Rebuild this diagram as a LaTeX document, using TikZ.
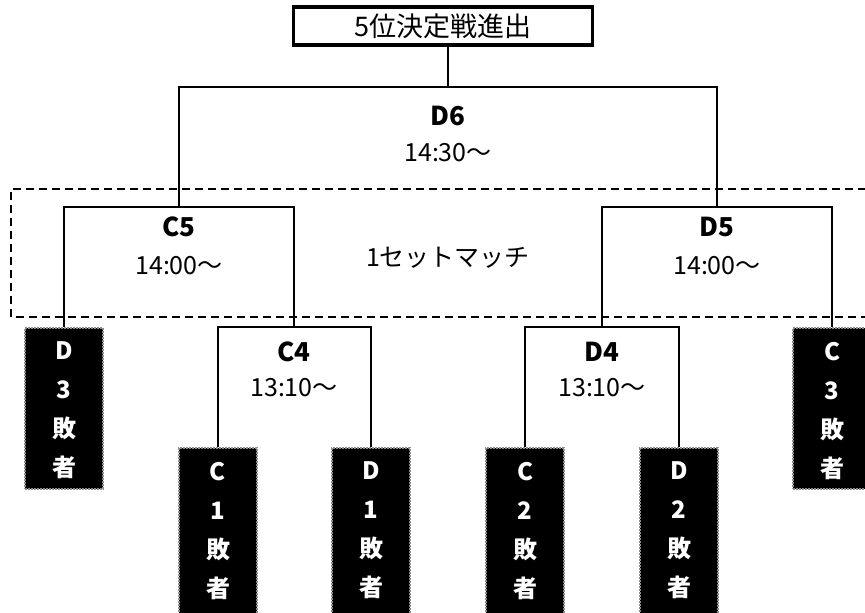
\documentclass[tikz,border=0pt]{standalone}
\usepackage{fontspec}
\setmainfont{Noto Sans CJK JP}

\newcommand{\lw}{2.3pt}
\newcommand{\boxw}{78pt}
\newcommand{\mn}{\node[font=\fontsize{26}{26}\selectfont\bfseries]}
\newcommand{\tn}{\node[font=\fontsize{25}{25}\selectfont]}
\newcommand{\lbox}{\node[loser]}
\newcommand{\lstack}[3]{\parbox[c][#3][t]{\boxw}{\centering\vspace*{14pt}#1\\#2\\敗\\者}}

\tikzset{
    bracket/.style={line width=\lw},
    loser/.style={anchor=north, inner sep=0pt, fill=black, draw=black!45,
        densely dotted, line width=2pt, text=white,
        font=\fontsize{24}{39}\selectfont\bfseries},
    finalbox/.style={draw, line width=3.5pt, minimum width=299pt,
        minimum height=38pt, inner sep=0pt, font=\fontsize{27}{27}\selectfont}
}

\begin{document}
\begin{tikzpicture}[x=1pt, y=-1pt]
        \clip (0,0) rectangle (865,613);

        \node[finalbox] (final) at (443,26) {5位決定戦進出};
        \coordinate (d6) at (448,87);
        \coordinate (c5) at (179,207);
        \coordinate (d5) at (717,207);
        \coordinate (c4) at (294,327);
        \coordinate (d4) at (602,327);

        \lbox (d3) at (64,327) {\lstack{D}{3}{161pt}};
        \lbox (c3) at (832,327) {\lstack{C}{3}{161pt}};
        \lbox (c1) at (218,447) {\lstack{C}{1}{180pt}};
        \lbox (d1) at (371,447) {\lstack{D}{1}{180pt}};
        \lbox (c2) at (525,447) {\lstack{C}{2}{180pt}};
        \lbox (d2) at (679,447) {\lstack{D}{2}{180pt}};

        \mn (d6name) at (448,116) {D6};
        \tn (d6time) at (448,153) {14:30～};
        \mn (c5name) at (179,227) {C5};
        \tn (c5time) at (179,266) {14:00～};
        \mn (d5name) at (717,227) {D5};
        \tn (d5time) at (717,266) {14:00～};
        \mn (c4name) at (294,352) {C4};
        \tn (c4time) at (294,388) {13:10～};
        \mn (d4name) at (602,352) {D4};
        \tn (d4time) at (602,388) {13:10～};
        \tn (oneset) at (448,258) {1セットマッチ};

        \draw[dashed, line width=1.4pt, dash pattern=on 8pt off 5pt]
            (866,189) -- (11,189) -- (11,317) -- (866,317);

        \draw[bracket]
            (final.south -| d6) -- (d6)
            (c5) -- (c5 |- d6) -- (d5 |- d6) -- (d5)
            (d3.north) -- (d3.north |- c5) -- (c4 |- c5) -- (c4)
            (d4) -- (d4 |- d5) -- (c3.north |- d5) -- (c3.north)
            (c1.north) -- (c1.north |- c4) -- (d1.north |- c4) -- (d1.north)
            (c2.north) -- (c2.north |- d4) -- (d2.north |- d4) -- (d2.north)
            ;
\end{tikzpicture}
\end{document}
